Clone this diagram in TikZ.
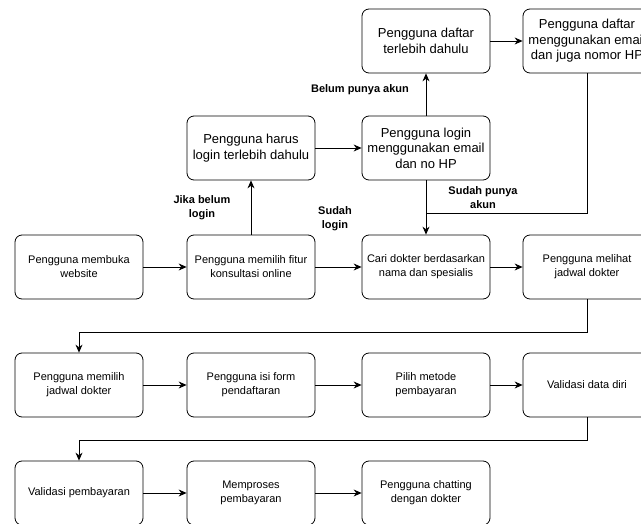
\documentclass[tikz,border=0pt]{standalone}
\usepackage{fontspec}
\setmainfont{Liberation Sans}
\usetikzlibrary{arrows.meta}

\begin{document}
\begin{tikzpicture}[x=1pt,y=1pt,yscale=-1,xscale=1,
  kotak/.style={draw, rounded corners=7pt, minimum width=128pt, minimum height=64pt, align=center, inner sep=1pt, line width=0.8pt, font=\fontsize{11}{14}\selectfont},
  kotakbesar/.style={kotak, font=\fontsize{13}{15.5}\selectfont},
  ket/.style={align=center, inner sep=0pt, font=\bfseries\fontsize{11}{14}\selectfont},
  panah/.style={draw, line width=0.8pt, -{Stealth[length=8pt,width=7pt]}},
  garis/.style={draw, line width=0.8pt}]

\clip (0,0) rectangle (641,524);

% Baris atas
\node [kotakbesar] (daftar) at (426,41) {Pengguna daftar\\terlebih dahulu};
\node [kotakbesar] (daftaremail) at (587,41) {Pengguna daftar\\menggunakan email\\dan juga nomor HP};
\node [kotakbesar] (harus) at (251,148) {Pengguna harus\\login terlebih dahulu};
\node [kotakbesar] (login) at (426,148) {Pengguna login\\menggunakan email\\dan no HP};

% Baris kedua
\node [kotak] (buka) at (79,267) {Pengguna membuka\\website};
\node [kotak] (fitur) at (251,267) {Pengguna memilih fitur\\konsultasi online};
\node [kotak] (cari) at (426,267) {Cari dokter berdasarkan\\nama dan spesialis};
\node [kotak] (lihat) at (587,267) {Pengguna melihat\\jadwal dokter};

% Baris ketiga
\node [kotak] (jadwal) at (79,385) {Pengguna memilih\\jadwal dokter};
\node [kotak] (form) at (251,385) {Pengguna isi form\\pendaftaran};
\node [kotak] (metode) at (426,385) {Pilih metode\\pembayaran};
\node [kotak] (validdiri) at (587,385) {Validasi data diri};

% Baris bawah
\node [kotak] (validbayar) at (79,493) {Validasi pembayaran};
\node [kotak] (proses) at (251,493) {Memproses\\pembayaran};
\node [kotak] (chat) at (426,493) {Pengguna chatting\\dengan dokter};

% Keterangan
\node [ket] (belumakun) at (360,90) {Belum punya akun};
\node [ket] (belumlogin) at (202,208) {Jika belum\\login};
\node [ket] (sudahlogin) at (335,219) {Sudah\\login};
\node [ket] (sudahakun) at (483,198) {Sudah punya\\akun};

\coordinate (gabung) at (426,213);

% Panah
\draw [panah] (buka) -- (fitur);
\draw [panah] (fitur) -- (cari);
\draw [panah] (cari) -- (lihat);
\draw [panah] (fitur) -- (harus);
\draw [panah] (harus) -- (login);
\draw [panah] (login) -- (daftar);
\draw [panah] (login) -- (cari);
\draw [panah] (daftar) -- (daftaremail);
\draw [garis] (daftaremail.south) |- (gabung);
\draw [panah] (lihat.south) -- ++(0,33) -| (jadwal.north);
\draw [panah] (jadwal) -- (form);
\draw [panah] (form) -- (metode);
\draw [panah] (metode) -- (validdiri);
\draw [panah] (validdiri.south) -- ++(0,23) -| (validbayar.north);
\draw [panah] (validbayar) -- (proses);
\draw [panah] (proses) -- (chat);
\end{tikzpicture}
\end{document}
